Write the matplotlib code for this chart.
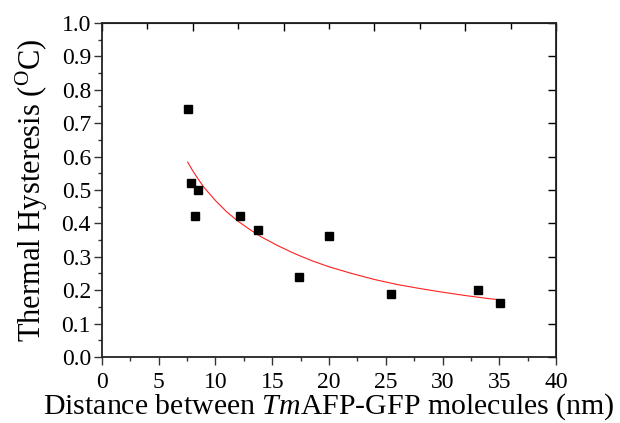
import matplotlib.pyplot as plt
import matplotlib
from matplotlib.ticker import MultipleLocator

matplotlib.rcParams['font.family'] = ['Liberation Serif', 'DejaVu Serif']
matplotlib.rcParams['mathtext.fontset'] = 'custom'
matplotlib.rcParams['mathtext.rm'] = 'Liberation Serif'
matplotlib.rcParams['mathtext.it'] = 'Liberation Serif:italic'

# measured points
distance = [7.55, 7.84, 8.22, 8.49, 12.13, 13.77, 17.39, 20.0, 25.46, 33.13, 35.1]
hysteresis = [0.742, 0.522, 0.421, 0.50, 0.421, 0.381, 0.240, 0.361, 0.190, 0.200, 0.161]

# fitted curve
fit_x = [7.55, 8.0, 8.5, 9.0, 10.0, 11.0, 12.0, 13.0, 14.0, 15.5, 17.0, 18.5, 20.0,
         22.0, 24.0, 26.0, 28.0, 30.0, 32.0, 34.0, 35.1]
fit_y = [0.583, 0.557, 0.531, 0.507, 0.468, 0.434, 0.406, 0.382, 0.360, 0.333, 0.309,
         0.288, 0.270, 0.250, 0.232, 0.217, 0.205, 0.194, 0.184, 0.175, 0.171]

fig = plt.figure(figsize=(6.2, 4.23), dpi=100)
ax = fig.add_axes([0.1645, 0.156, 0.7323, 0.79])

ax.plot(fit_x, fit_y, color='#ff2020', lw=0.8)
ax.plot(distance, hysteresis, 's', color='black', ms=5.5)

ax.set_xlim(0, 40)
ax.set_ylim(0, 1.0)
ax.xaxis.set_major_locator(MultipleLocator(5))
ax.xaxis.set_minor_locator(MultipleLocator(2.5))
ax.yaxis.set_major_locator(MultipleLocator(0.1))
ax.yaxis.set_minor_locator(MultipleLocator(0.05))
ax.yaxis.set_major_formatter(matplotlib.ticker.FormatStrFormatter('%.1f'))

ax.tick_params(which='major', direction='out', length=5.5, width=1, labelsize=17, color='#333333')
ax.tick_params(which='minor', direction='out', length=3, width=1, color='#333333')
ax.tick_params(axis='x', which='major', pad=5)
ax.tick_params(axis='y', which='major', pad=2.5)
for s in ax.spines.values():
    s.set_linewidth(1.3)
    s.set_color('#222222')

# top / right ticks pointing inward
top = ax.secondary_xaxis('top')
top.xaxis.set_major_locator(MultipleLocator(8))
top.xaxis.set_minor_locator(MultipleLocator(4))
top.tick_params(which='major', direction='in', length=6, width=1, labeltop=False)
top.tick_params(which='minor', direction='in', length=4, width=1)
right = ax.secondary_yaxis('right')
right.yaxis.set_major_locator(MultipleLocator(0.1))
right.tick_params(which='major', direction='in', length=6, width=1, labelright=False)
right.tick_params(which='minor', right=False)

ax.set_xlabel(r'Distance between $\mathit{Tm}$AFP-GFP molecules (nm)', fontsize=21.5, labelpad=-1)
ax.set_ylabel(r'Thermal Hysteresis ($^{\mathrm{O}}$C)', fontsize=22, labelpad=8)

fig.savefig('out.png', dpi=100)
